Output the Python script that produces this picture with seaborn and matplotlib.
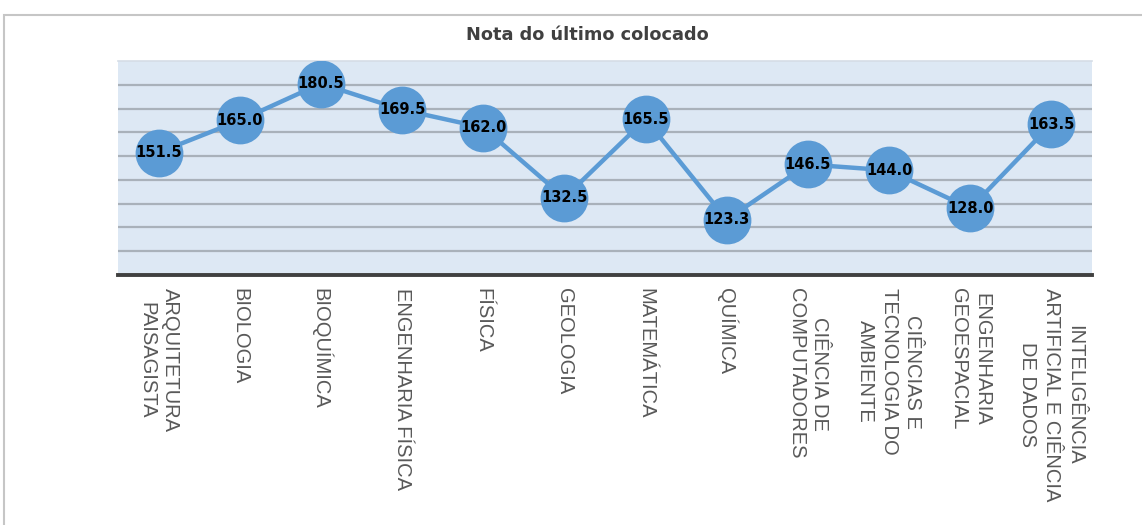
import matplotlib
matplotlib.use("Agg")
import matplotlib.pyplot as plt
import seaborn as sns
import pandas as pd
from matplotlib.patches import Rectangle

# dados
cursos = [
    "ARQUITETURA\nPAISAGISTA",
    "BIOLOGIA",
    "BIOQUÍMICA",
    "ENGENHARIA FÍSICA",
    "FÍSICA",
    "GEOLOGIA",
    "MATEMÁTICA",
    "QUÍMICA",
    "CIÊNCIA DE\nCOMPUTADORES",
    "CIÊNCIAS E\nTECNOLOGIA DO\nAMBIENTE",
    "ENGENHARIA\nGEOESPACIAL",
    "INTELIGÊNCIA\nARTIFICIAL E CIÊNCIA\nDE DADOS",
]
notas = [151.5, 165.0, 180.5, 169.5, 162.0, 132.5, 165.5, 123.3, 146.5, 144.0, 128.0, 163.5]
y_ticks = [100, 110, 120, 130, 140, 150, 160, 170, 180, 190]

df = pd.DataFrame({"curso": cursos, "nota": notas})

sns.set_style("white")
fig = plt.figure(figsize=(11.42, 5.25), dpi=100)
ax = fig.add_axes([118 / 1142, 1 - 275 / 525, (1092 - 118) / 1142, (275 - 61) / 525])
ax.set_facecolor("#dde8f4")

sns.pointplot(data=df, x="curso", y="nota", ax=ax, color="#5b9bd5",
              markersize=32, linewidth=3.2, errorbar=None, zorder=3)

for i, v in enumerate(notas):
    ax.text(i, v, f"{v:.1f}", ha="center", va="center", fontsize=10.5,
            fontweight="bold", color="black", zorder=5)

ax.set_xlim(-0.5, len(cursos) - 0.5)
ax.set_ylim(y_ticks[0], y_ticks[-1])
ax.set_yticks(y_ticks[1:-1])
ax.yaxis.grid(True, color="#a9b1ba", linewidth=1.6)
ax.set_axisbelow(True)
ax.tick_params(axis="y", left=False, labelleft=False)
ax.tick_params(axis="x", bottom=False, pad=6)
ax.set_xlabel("")
ax.set_ylabel("")

for s in ["left", "right"]:
    ax.spines[s].set_visible(False)
ax.spines["top"].set_color("#d5dde6")
ax.spines["top"].set_linewidth(1.2)
ax.spines["bottom"].set_color("#404040")
ax.spines["bottom"].set_linewidth(2.8)

ax.set_xticks(range(len(cursos)))
ax.set_xticklabels(cursos, rotation=-90, ha="center", va="top",
                   multialignment="center", fontsize=14.5, color="#595959",
                   family="Liberation Sans", linespacing=1.3)

fig.text(587 / 1142, 1 - 35 / 525, "Nota do último colocado", ha="center", va="center",
         fontsize=12.8, fontweight="bold", color="#404040")

# moldura do gráfico
fig.patches.append(Rectangle((4 / 1142, -0.1), 1.2, 1.1 - 15 / 525, transform=fig.transFigure,
                             fill=False, edgecolor="#c6c6c6", linewidth=1.5))

fig.savefig("out.png", dpi=100)
